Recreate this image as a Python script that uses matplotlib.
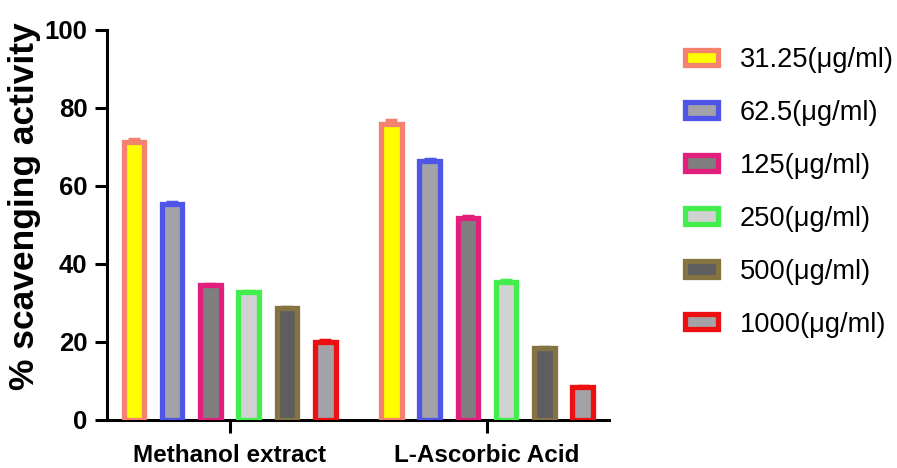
import matplotlib
matplotlib.use("Agg")
import matplotlib.pyplot as plt
from matplotlib.patches import Patch
import numpy as np

plt.rcParams["font.family"] = ["Liberation Sans", "DejaVu Sans"]

groups = ["Methanol extract", "L-Ascorbic Acid"]
concentrations = ["31.25(μg/ml)", "62.5(μg/ml)", "125(μg/ml)",
                  "250(μg/ml)", "500(μg/ml)", "1000(μg/ml)"]

# % scavenging activity per concentration: [methanol, ascorbic]
methanol = [71.4, 55.4, 34.5, 32.8, 28.6, 19.9]
ascorbic = [75.8, 66.5, 51.8, 35.4, 18.4, 8.4]
methanol_err = [0.6, 0.4, 0.4, 0.4, 0.4, 0.5]
ascorbic_err = [1.0, 0.4, 0.4, 0.4, 0.3, 0.4]

edge_colors = ["#F4826E", "#4F55E6", "#E21F7C", "#41EE4B", "#857442", "#EE1010"]
fill_colors = ["#FFFF00", "#A2A2A8", "#7F7F7F", "#D2D2D2", "#5E5E60", "#A2A2A8"]

fig = plt.figure(figsize=(8.97, 4.68), dpi=100)
ax = fig.add_axes([0.1193, 0.1026, 0.5597, 0.8333])

x = np.arange(len(groups))
pitch = 0.1487
width = 0.08
for i in range(len(concentrations)):
    pos = x + (i - 2.5) * pitch
    vals = [methanol[i], ascorbic[i]]
    errs = [methanol_err[i], ascorbic_err[i]]
    ax.bar(pos, vals, width, color=fill_colors[i], edgecolor=edge_colors[i],
           linewidth=3.8, zorder=3)
    ax.errorbar(pos, vals, yerr=[[0, 0], errs], fmt="none", ecolor=edge_colors[i],
                elinewidth=2, capsize=4, capthick=2.5, zorder=2)

ax.set_ylim(0, 100)
ax.set_xlim(-0.476, 1.474)
ax.set_yticks([0, 20, 40, 60, 80, 100])
ax.set_xticks(x)
ax.set_xticklabels(groups)

ax.spines["top"].set_visible(False)
ax.spines["right"].set_visible(False)
ax.spines["left"].set_linewidth(2.2)
ax.spines["bottom"].set_linewidth(2.2)
ax.tick_params(axis="both", width=2.2, length=9, color="black")
ax.tick_params(axis="y", pad=5, labelsize=18.5)
ax.tick_params(axis="x", pad=8, labelsize=17.5)
plt.setp(ax.get_yticklabels(), fontweight="bold")
plt.setp(ax.get_xticklabels(), fontweight="bold")

fig.text(25 / 897, 1 - 206 / 468, "% scavenging activity", rotation=90,
         ha="center", va="center", fontsize=25.5, fontweight="bold")

handles = [Patch(facecolor=fill_colors[i], edgecolor=edge_colors[i], linewidth=3.8)
           for i in range(len(concentrations))]
fig.legend(handles, concentrations, loc="upper left",
           bbox_to_anchor=(0.7637, 0.9), frameon=False, fontsize=19.6,
           handlelength=1.2, handleheight=0.48, handletextpad=0.8,
           labelspacing=0.99, borderpad=0, borderaxespad=0)

fig.savefig("out.png", dpi=100)
